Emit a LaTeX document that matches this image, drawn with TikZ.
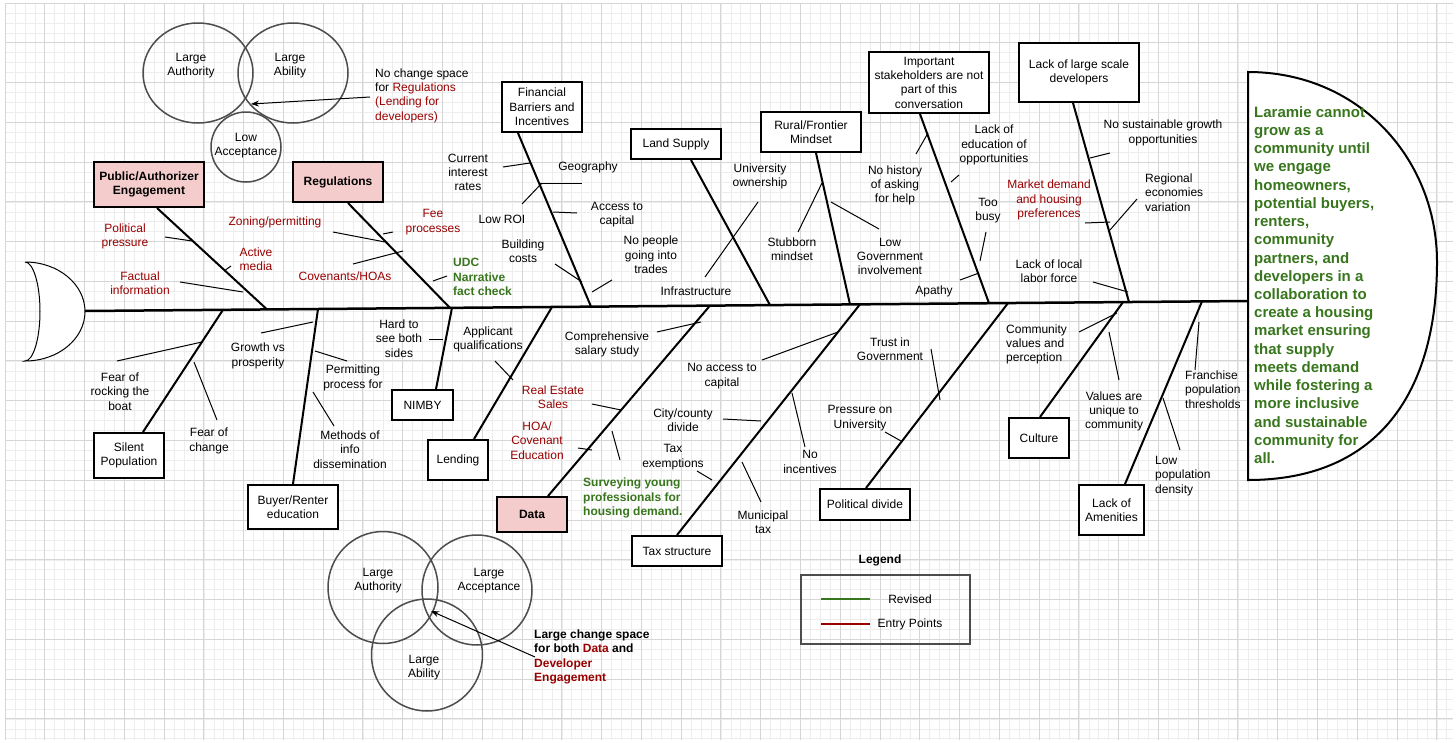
\documentclass[tikz,border=0pt]{standalone}
\usepackage{fontspec}
\setmainfont{Liberation Sans}
\usetikzlibrary{arrows.meta,calc}
\definecolor{dred}{HTML}{990000}
\definecolor{dgreen}{HTML}{38761D}
\definecolor{pinkf}{HTML}{F4CCCC}
\definecolor{gridmaj}{HTML}{D6D6D6}
\definecolor{gridmin}{HTML}{EDEDED}
\definecolor{vgray}{HTML}{4D4D4D}
\begin{document}
\begin{tikzpicture}[x=1pt,y=-1pt,
  lbl/.style={font=\fontsize{12}{14.3}\selectfont, align=center, inner sep=0pt},
  lblL/.style={lbl, align=left, anchor=west},
  rlbl/.style={lbl, text=dred},
  glbl/.style={lbl, align=left, anchor=west, text=dgreen, font=\fontsize{12}{14.3}\selectfont\bfseries},
  box/.style={draw, line width=2pt, fill=white, inner sep=0pt, align=center, font=\fontsize{12}{14.3}\selectfont},
  pbox/.style={box, fill=pinkf, font=\fontsize{12}{14.3}\selectfont\bfseries},
  bone/.style={line width=2pt},
  twig/.style={line width=1pt},
  venn/.style={draw=vgray, line width=1.5pt},
  pointer/.style={line width=1pt, -{Stealth[length=8pt,width=6pt]}}
]
\useasboundingbox (0,0) rectangle (1456,742);
\fill[white] (0,0) rectangle (1456,742);
% grid
\foreach \i in {0,...,145} \draw[gridmin, line width=0.6pt] ({5+9.943*\i},3) -- ({5+9.943*\i},740);
\foreach \j in {0,...,74} \draw[gridmin, line width=0.6pt] (5,{3+9.943*\j}) -- (1453,{3+9.943*\j});
\foreach \i in {0,...,36} \draw[gridmaj, line width=0.9pt] ({5+39.77*\i},3) -- ({5+39.77*\i},740);
\foreach \j in {0,...,18} \draw[gridmaj, line width=0.9pt] (5,{3+39.77*\j}) -- (1453,{3+39.77*\j});

% tail and head
\draw[line width=1pt, fill=white] (25,262) arc[start angle=-90,end angle=90,x radius=60,y radius=49.5]
  arc[start angle=90,end angle=-90,x radius=15,y radius=49.5];
\draw[line width=2pt, fill=white] (1248,480) -- (1248,72) .. controls (1360,72) and (1437,160) .. (1437,262)
  .. controls (1437,390) and (1380,480) .. (1248,480) -- cycle;
\node[anchor=west, inner sep=0pt, align=left, text=dgreen, font=\fontsize{15}{18.22}\selectfont\bfseries] (goal) at (1254,285)
 {Laramie cannot\\grow as a\\community until\\we engage\\homeowners,\\potential buyers,\\renters,\\community\\partners, and\\developers in a\\collaboration to\\create a housing\\market ensuring\\that supply\\meets demand\\while fostering a\\more inclusive\\and sustainable\\community for\\all.};

% spine
\coordinate (tailend) at (85,311);
\coordinate (headstart) at (1248,301);
\draw[line width=2.5pt] (tailend) -- (headstart);

% spine joints
\coordinate (s-pae) at (267,309.4);
\coordinate (s-reg) at (450,307.9);
\coordinate (s-fin) at (591,306.6);
\coordinate (s-land) at (770,305.1);
\coordinate (s-rural) at (850,304.4);
\coordinate (s-imp) at (989,303.2);
\coordinate (s-lack) at (1129,302.0);
\coordinate (s-silent) at (223,309.8);
\coordinate (s-buyer) at (318,309.0);
\coordinate (s-nimby) at (452,307.8);
\coordinate (s-lend) at (552,307.0);
\coordinate (s-data) at (710,305.6);
\coordinate (s-tax) at (860,304.3);
\coordinate (s-pol) at (1008,303.1);
\coordinate (s-cult) at (1123,302.1);
\coordinate (s-amen) at (1202,301.4);

% top boxes
\node[pbox, minimum width=110, minimum height=45] (pae) at (149,184.5) {Public/Authorizer\\Engagement};
\node[pbox, minimum width=90, minimum height=40] (reg) at (338,182) {Regulations};
\node[box, minimum width=80, minimum height=50] (fin) at (542,107) {Financial\\Barriers and\\Incentives};
\node[box, minimum width=90, minimum height=30] (land) at (676,144) {Land Supply};
\node[box, minimum width=100, minimum height=40] (rural) at (811,132) {Rural/Frontier\\Mindset};
\node[box, minimum width=120, minimum height=61] (imp) at (929,82.5) {Important\\stakeholders are not\\part of this\\conversation};
\node[box, minimum width=120, minimum height=59] (lack) at (1079,72.5) {Lack of large scale\\developers};

% bottom boxes
\node[box, minimum width=70, minimum height=45] (silent) at (129,455.5) {Silent\\Population};
\node[box, minimum width=90, minimum height=44] (buyer) at (293,507) {Buyer/Renter\\education};
\node[box, minimum width=61, minimum height=30] (nimby) at (422.5,405) {NIMBY};
\node[box, minimum width=60, minimum height=40] (lend) at (458,460) {Lending};
\node[pbox, minimum width=70, minimum height=35] (data) at (532,514.5) {Data};
\node[box, minimum width=90, minimum height=30] (tax) at (677,551) {Tax structure};
\node[box, minimum width=90, minimum height=31] (pol) at (865,504.5) {Political divide};
\node[box, minimum width=60, minimum height=40] (cult) at (1039,438) {Culture};
\node[box, minimum width=65, minimum height=50] (amen) at (1111.5,510) {Lack of\\Amenities};

% bones
\draw[bone] ([xshift=8pt]pae.south) -- (s-pae);
\draw[bone] ([xshift=10pt]reg.south) -- (s-reg);
\draw[bone] ([xshift=-24pt]fin.south) -- (s-fin);
\draw[bone] ([xshift=15pt]land.south) -- (s-land);
\draw[bone] ([xshift=5pt]rural.south) -- (s-rural);
\draw[bone] ([xshift=-9pt]imp.south) -- (s-imp);
\draw[bone] ([xshift=-6pt]lack.south) -- (s-lack);
\draw[bone] ([xshift=14pt]silent.north) -- (s-silent);
\draw[bone] (buyer.north) -- (s-buyer);
\draw[bone] ([xshift=13.5pt]nimby.north) -- (s-nimby);
\draw[bone] ([xshift=16pt]lend.north) -- (s-lend);
\draw[bone] ([xshift=16pt]data.north) -- (s-data);
\draw[bone] (tax.north) -- (s-tax);
\draw[bone] ([xshift=1pt]pol.north) -- (s-pol);
\draw[bone] ([xshift=1pt]cult.north) -- (s-cult);
\draw[bone] ([xshift=13.5pt]amen.north) -- (s-amen);

% twigs
\draw[twig] (165,237) -- (192,241);
\draw[twig] (224,271) -- (231,266);
\draw[twig] (180,282) -- (243,292);
\draw[twig] (333,232) -- (385,242);
\draw[twig] (383,234) -- (393,232);
\draw[twig] (353,264) -- (403,251);
\draw[twig] (433,281) -- (447,276);
\draw[twig] (503,167) -- (530,163);
\draw[twig] (540,183) -- (582,183);
\draw[twig] (522,204) -- (542,183);
\draw[twig] (553,212) -- (577,213);
\draw[twig] (555,264) -- (582,282);
\draw[twig] (592,292) -- (612,280);
\draw[twig] (758,202) -- (705,277);
\draw[twig] (798,232) -- (822,183);
\draw[twig] (831,202) -- (879,229);
\draw[twig] (916,154) -- (928,133);
\draw[twig] (951,182) -- (959,175);
\draw[twig] (986,232) -- (980,261);
\draw[twig] (960,280) -- (979,273);
\draw[twig] (1090,158) -- (1110,153);
\draw[twig] (1110,230) -- (1137,199);
\draw[twig] (1085,223) -- (1110,222);
\draw[twig] (1093,282) -- (1128,292);
\draw[twig] (117,361) -- (202,342);
\draw[twig] (194,362) -- (217,420);
\draw[twig] (261,333) -- (313,322);
\draw[twig] (315,351) -- (347,361);
\draw[twig] (313,392) -- (334,426);
\draw[twig] (429,339) -- (443,339);
\draw[twig] (495,361) -- (513,380);
\draw[twig] (657,332) -- (701,322);
\draw[twig] (592,404) -- (621,410);
\draw[twig] (578,448) -- (592,450);
\draw[twig] (612,431) -- (620,460);
\draw[twig] (762,360) -- (838,332);
\draw[twig] (723,419) -- (761,421);
\draw[twig] (697,471) -- (712,480);
\draw[twig] (792,393) -- (805,447);
\draw[twig] (742,462) -- (761,502);
\draw[twig] (931,349) -- (940,400);
\draw[twig] (885,432) -- (901,441);
\draw[twig] (1079,332) -- (1117,313);
\draw[twig] (1109,332) -- (1119,380);
\draw[twig] (1199,322) -- (1195,370);
\draw[twig] (1163,398) -- (1180,450);

% labels: top
\node[rlbl] (t1) at (125,236.5) {Political\\pressure};
\node[rlbl] (t2) at (256,259.5) {Active\\media};
\node[rlbl] (t3) at (140,283) {Factual\\information};
\node[rlbl] (t4) at (275,222) {Zoning/permitting};
\node[rlbl] (t5) at (433,222) {Fee\\processes};
\node[rlbl] (t6) at (345,276) {Covenants/HOAs};
\node[glbl] (t7) at (453,277) {UDC\\Narrative\\fact check};
\node[lbl] (t8) at (468,172.5) {Current\\interest\\rates};
\node[lbl] (t9) at (588,167) {Geography};
\node[lbl] (t10) at (502,219) {Low ROI};
\node[lbl] (t11) at (617,214.5) {Access to\\capital};
\node[lbl] (t12) at (523,251) {Building\\costs};
\node[lbl] (t13) at (651,255) {No people\\going into\\trades};
\node[lbl] (t14) at (760,176.5) {University\\ownership};
\node[lbl] (t15) at (696,291) {Infrastructure};
\node[lbl] (t16) at (792,249) {Stubborn\\mindset};
\node[lbl] (t17) at (890,256.5) {Low\\Government\\involvement};
\node[lbl] (t18) at (895,185.5) {No history\\of asking\\for help};
\node[lbl] (t19) at (994,145) {Lack of\\education of\\opportunities};
\node[lbl] (t20) at (988,210.5) {Too\\busy};
\node[lbl] (t21) at (934,291) {Apathy};
\node[lbl] (t22) at (1163,133) {No sustainable growth\\opportunities};
\node[lblL] (t23) at (1145,192.5) {Regional\\economies\\variation};
\node[rlbl] (t24) at (1049,200) {Market demand\\and housing\\preferences};
\node[lbl] (t25) at (1049,271) {Lack of local\\labor force};
% labels: bottom
\node[lbl] (b1) at (120,391.5) {Fear of\\rocking the\\boat};
\node[lbl] (b2) at (209,441) {Fear of\\change};
\node[lbl] (b3) at (258,356) {Growth vs\\prosperity};
\node[lbl] (b4) at (353,378) {Permitting\\process for};
\node[lbl] (b5) at (350,449.5) {Methods of\\info\\dissemination};
\node[lbl] (b6) at (399,338.5) {Hard to\\see both\\sides};
\node[lbl] (b7) at (488,339.5) {Applicant\\qualifications};
\node[lbl] (b8) at (607,344.5) {Comprehensive\\salary study};
\node[rlbl] (b9) at (553,397) {Real Estate\\Sales};
\node[rlbl] (b10) at (537,440.5) {HOA/\\Covenant\\Education};
\node[glbl] (b11) at (583,498) {Surveying young\\professionals for\\housing demand.};
\node[lbl] (b12) at (722,376) {No access to\\capital};
\node[lbl] (b13) at (683,420) {City/county\\divide};
\node[lbl] (b14) at (673,457) {Tax\\exemptions};
\node[lbl] (b15) at (810,462) {No\\incentives};
\node[lbl] (b16) at (763,522.5) {Municipal\\tax};
\node[lbl] (b17) at (890,349.5) {Trust in\\Government};
\node[lbl] (b18) at (860,418) {Pressure on\\University};
\node[lblL] (b19) at (1006,344.5) {Community\\values and\\perception};
\node[lbl] (b20) at (1114,411.5) {Values are\\unique to\\community};
\node[lblL] (b21) at (1185,389.5) {Franchise\\population\\thresholds};
\node[lblL] (b22) at (1155,476) {Low\\population\\density};

% top venn
\draw[venn] (198,73) ellipse[x radius=55, y radius=50];
\draw[venn] (293,73) ellipse[x radius=55, y radius=50];
\draw[venn] (246,147) ellipse[x radius=35, y radius=35];
\node[lbl] (v1) at (191,65.5) {Large\\Authority};
\node[lbl] (v2) at (290,65.5) {Large\\Ability};
\node[lbl] (v3) at (246,145.5) {Low\\Acceptance};
\coordinate (vt) at (251,104);
\node[lblL] (vnote) at (375,95.5) {No change space\\for \textcolor{dred}{Regulations}\\\textcolor{dred}{(Lending for}\\\textcolor{dred}{developers)}};
\draw[pointer] ([xshift=-5pt,yshift=-1.5pt]vnote.west) -- (vt);

% bottom venn
\draw[venn] (383,587.5) ellipse[x radius=55, y radius=56];
\draw[venn] (477,590) ellipse[x radius=55, y radius=55];
\draw[venn] (427,655) ellipse[x radius=55.5, y radius=56];
\node[lbl] (w1) at (378,580.5) {Large\\Authority};
\node[lbl] (w2) at (489,580.5) {Large\\Acceptance};
\node[lbl] (w3) at (424,667.5) {Large\\Ability};
\coordinate (wt) at (431,611);
\node[lblL, font=\fontsize{12}{14.3}\selectfont\bfseries] (wnote) at (534,657) {Large change space\\for both \textcolor{dred}{Data} and\\\textcolor{dred}{Developer}\\\textcolor{dred}{Engagement}};
\draw[pointer] ([xshift=1pt]wnote.west) -- (wt);

% legend
\node[lbl, font=\fontsize{12}{14.3}\selectfont\bfseries] (legt) at (880,560) {Legend};
\draw[draw=vgray, line width=1.5pt] (801,575) rectangle (970,644);
\coordinate (lg1) at (821,599);
\coordinate (lg2) at (870,599);
\coordinate (lr1) at (821,624);
\coordinate (lr2) at (870,624);
\draw[dgreen, line width=2pt] (lg1) -- (lg2);
\draw[dred, line width=2pt] (lr1) -- (lr2);
\node[lbl] (lgt) at (910,599) {Revised};
\node[lbl] (lrt) at (910,624) {Entry Points};
\end{tikzpicture}
\end{document}
